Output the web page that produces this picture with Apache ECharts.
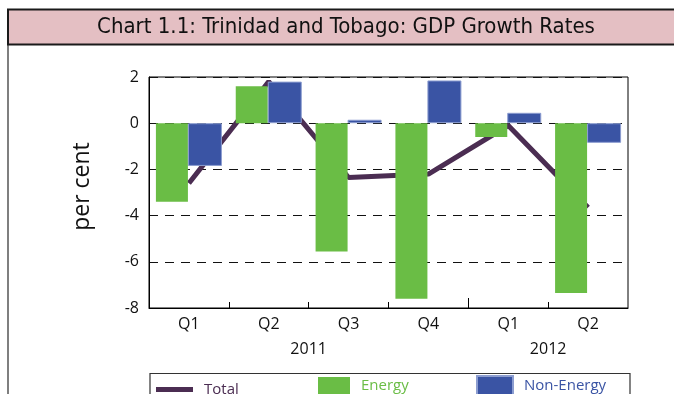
<!DOCTYPE html>
<html>
<head>
<meta charset="utf-8">
<script src="https://cdn.jsdelivr.net/npm/echarts@6/dist/echarts.min.js"></script>
<style>
  html, body { margin: 0; padding: 0; background: #fff; }
  #chart { width: 674px; height: 394px; }
</style>
</head>
<body>
<div id="chart"></div>
<script>
// quarters and the year each run of quarters belongs to
var quarters = ['Q1', 'Q2', 'Q3', 'Q4', 'Q1', 'Q2'];
var years = ['2011', '2012'];
var quartersPerYear = [4, 2];
var yTicks = [-8, -6, -4, -2, 0, 2];

// per cent
var total = [-2.6, 1.8, -2.35, -2.2, -0.1, -3.65];
var energy = [-3.4, 1.6, -5.55, -7.6, -0.6, -7.35];
var nonEnergy = [-1.85, 1.8, 0.15, 1.85, 0.45, -0.85];

var cLine = '#4b2d52', cGreen = '#6abd45', cBlue = '#3a54a4';
var font = "'Open Sans', 'Noto Sans', sans-serif";

// year label sits at the middle of its quarters, separator tick between years
var yearPos = [], yearSep = [], start = 0;
years.forEach(function (y, i) {
  yearPos.push(start + quartersPerYear[i] / 2);
  start += quartersPerYear[i];
  if (i < years.length - 1) yearSep.push(start);
});
// small ticks between quarters
var quarterSep = [];
for (var i = 1; i < quarters.length; i++) quarterSep.push(i);

var chart = echarts.init(document.getElementById('chart'));

function legendFor(name, left, w, h, color, top) {
  return {
    data: [name],
    left: left,
    top: top,
    padding: 0,
    icon: 'rect',
    itemWidth: w,
    itemHeight: h,
    selectedMode: false,
    textStyle: { color: color, fontSize: 15, fontFamily: font, padding: [2, 0, 0, 6] }
  };
}

chart.setOption({
  animation: false,
  graphic: [
    { type: 'line', shape: { x1: 8, y1: 44, x2: 8, y2: 394 }, style: { stroke: '#555', lineWidth: 1.5 } },
    { type: 'rect', shape: { x: 8, y: 9.5, width: 680, height: 35 },
      style: { fill: '#e4bfc3', stroke: '#1a1a1a', lineWidth: 2 } },
    { type: 'text', x: 346, y: 27,
      style: { text: 'Chart 1.1: Trinidad and Tobago: GDP Growth Rates', fill: '#111',
               align: 'center', verticalAlign: 'middle',
               font: "22px 'Liberation Sans Narrow', 'DejaVu Sans Condensed', sans-serif" } },
    { type: 'rect', shape: { x: 150, y: 373.5, width: 480, height: 40 },
      style: { fill: 'none', stroke: '#333', lineWidth: 1.2 } }
  ],
  legend: [
    legendFor('Total', 156, 37, 5, cLine, 382),
    legendFor('Energy', 318, 32, 17, cGreen, 377),
    legendFor('Non-Energy', 476, 36, 19, cBlue, 375)
  ],
  grid: { left: 149, right: 46, top: 77, bottom: 86, show: true, borderColor: '#000', borderWidth: 1 },
  xAxis: [
    {
      type: 'category',
      data: quarters,
      position: 'bottom',
      axisLine: { onZero: false, lineStyle: { color: '#000', width: 1 } },
      axisTick: { show: false },
      axisLabel: { color: '#111', fontSize: 16, fontFamily: font, margin: 8 }
    },
    {
      type: 'value',
      min: 0,
      max: quarters.length,
      position: 'bottom',
      axisLine: { show: false, onZero: false },
      splitLine: { show: false },
      axisTick: { show: true, inside: true, length: 6, customValues: quarterSep, lineStyle: { color: '#000' } },
      axisLabel: {
        customValues: yearPos,
        color: '#111', fontSize: 16, fontFamily: font, margin: 33,
        formatter: function (v) { return years[yearPos.indexOf(v)] || ''; }
      }
    },
    {
      type: 'value',
      min: 0,
      max: quarters.length,
      position: 'bottom',
      axisLine: { show: false, onZero: false },
      splitLine: { show: false },
      axisLabel: { show: false },
      axisTick: { show: true, inside: true, length: 10, customValues: yearSep, lineStyle: { color: '#000' } }
    }
  ],
  yAxis: {
    type: 'value',
    min: yTicks[0],
    max: yTicks[yTicks.length - 1],
    interval: 2,
    name: 'per cent',
    nameLocation: 'middle',
    nameGap: 55,
    nameTextStyle: { fontSize: 23, fontFamily: font, color: '#111', padding: [0, 0, 0, 12] },
    axisLine: { show: true, lineStyle: { color: '#000' } },
    axisTick: { show: false },
    axisLabel: { color: '#111', fontSize: 16, fontFamily: font, margin: 10 },
    splitLine: { lineStyle: { color: '#111', type: [9, 7], width: 1 } }
  },
  series: [
    {
      name: 'Total', type: 'line', data: total, z: 1,
      symbol: 'none', lineStyle: { color: cLine, width: 5 }, itemStyle: { color: cLine }
    },
    {
      name: 'Energy', type: 'bar', data: energy, z: 3,
      barWidth: 32, barGap: '0%', itemStyle: { color: cGreen }
    },
    {
      name: 'Non-Energy', type: 'bar', data: nonEnergy, z: 3,
      barWidth: 34, itemStyle: { color: cBlue, borderColor: '#8c9dd0', borderWidth: 1 }
    }
  ]
});
</script>
</body>
</html>
